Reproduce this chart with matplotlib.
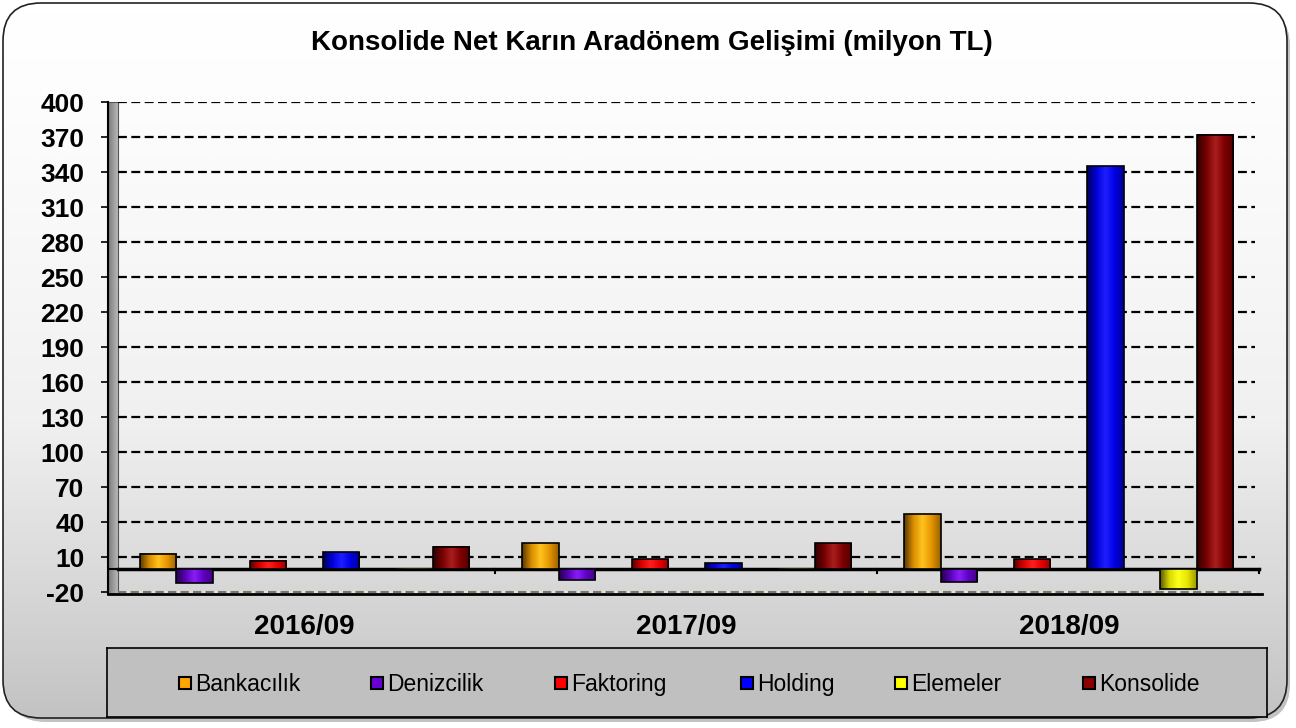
import matplotlib
matplotlib.use("Agg")
import matplotlib.pyplot as plt
import numpy as np
from matplotlib.patches import FancyBboxPatch, Rectangle
from matplotlib.colors import LinearSegmentedColormap, to_rgb

plt.rcParams['font.family'] = ['Liberation Sans', 'DejaVu Sans']

# data (milyon TL)
periods = ["2016/09", "2017/09", "2018/09"]
series = ["Bankacılık", "Denizcilik", "Faktoring", "Holding", "Elemeler", "Konsolide"]
bankacilik = [13, 22, 47]
denizcilik = [-12, -10, -11]
faktoring = [7, 8, 8]
holding = [14, 5, 345]
elemeler = [-1, -1, -17]
konsolide = [19, 22, 372]
values = [bankacilik, denizcilik, faktoring, holding, elemeler, konsolide]
colors = ["#FFA500", "#6A00D8", "#FF0000", "#0000FF", "#FFFF00", "#8B0000"]
yticks = [-20, 10, 40, 70, 100, 130, 160, 190, 220, 250, 280, 310, 340, 370, 400]

W, H = 1296, 728
fig = plt.figure(figsize=(W / 100, H / 100), dpi=100)


def fx(px):
    return px / W


def fy(py):
    return 1 - py / H


# background with rounded frame
bg = fig.add_axes([0, 0, 1, 1])
bg.set_xlim(0, W)
bg.set_ylim(H, 0)
bg.axis("off")
shadow = FancyBboxPatch((8, 8), W - 14, H - 14, boxstyle="round,pad=0,rounding_size=38",
                        fc="#9a9a9a", ec="none", alpha=0.6)
bg.add_patch(shadow)
frame = FancyBboxPatch((3, 3), W - 12, H - 13, boxstyle="round,pad=0,rounding_size=38",
                       fc="none", ec="#222222", lw=1.2, zorder=3)
bg.add_patch(frame)
grad = np.linspace(0, 1, 256) ** 1.3
grad = grad[:, None]
cmap_bg = LinearSegmentedColormap.from_list("bg", ["#FFFFFF", "#F0F0F0", "#C3C3C3"])
im = bg.imshow(grad, extent=(3, W - 9, H - 10, 3), cmap=cmap_bg, aspect="auto", zorder=1)
im.set_clip_path(frame)
bg.set_xlim(0, W)
bg.set_ylim(H, 0)

# main plot
left, right, top, bottom = 108, 1255, 102, 594
ax = fig.add_axes([fx(left), fy(bottom), fx(right - left), fy(top) - fy(bottom)])
ax.patch.set_alpha(0)
slot = 36.6
ax.set_xlim(0, (right - left) / slot)
ymin = -21.7
ax.set_ylim(ymin, 400)

x0 = 0.87
step = 10.44
offsets = [0, 1, 3, 5, 7, 8]

# left wall and floor
wall_w = 10 / slot
wall_cm = LinearSegmentedColormap.from_list("wall", ["#7a7a7a", "#b8b8b8"])
ax.imshow(np.linspace(0, 1, 32)[None, :], extent=(0, wall_w, ymin, 400), cmap=wall_cm,
          aspect="auto", zorder=2)
ax.add_patch(Rectangle((0, ymin), wall_w, 400 - ymin, fc="none", ec="#555555", lw=0.8, zorder=2))
ax.fill_between([wall_w, ax.get_xlim()[1]], ymin, -19.2, color="#E6E3CC", zorder=1)
ax.axhline(-20, xmin=wall_w / ax.get_xlim()[1], color="#777777", lw=1.5, ls=(0, (4, 2)), zorder=2)

# gridlines
for t in yticks[1:]:
    ax.plot([wall_w, ax.get_xlim()[1]], [t, t], color="black", lw=1.6, ls=(0, (4, 2)), zorder=2)

# bars with cylinder-like shading
for si, (vals, c) in enumerate(zip(values, colors)):
    base = np.array(to_rgb(c))
    cm = LinearSegmentedColormap.from_list(
        "b%d" % si, [base * 0.35, base * 0.85, np.minimum(base * 1.0 + 0.12, 1), base * 0.9, base * 0.6])
    g = np.linspace(0, 1, 64)[None, :]
    for gi, v in enumerate(vals):
        xl = x0 + gi * step + offsets[si]
        lo, hi = min(0, v), max(0, v)
        ax.imshow(g, extent=(xl, xl + 1, lo, hi), cmap=cm, aspect="auto", zorder=4,
                  interpolation="bicubic")
        ax.add_patch(Rectangle((xl, lo), 1, hi - lo, fc="none", ec="black", lw=1.2, zorder=5))

ax.set_xlim(0, (right - left) / slot)
ax.set_ylim(ymin, 400)

# zero line and category ticks
ax.plot([wall_w, x0 + 2 * step + 9.7], [0, 0], color="black", lw=2.5, zorder=3, clip_on=False)
ax.plot([0, wall_w], [0, 0], color="black", lw=1.5, zorder=3)
for gi in range(3):
    xb = x0 + gi * step + 9.7
    ax.plot([xb, xb], [0, -4], color="black", lw=1.5, zorder=3, clip_on=False)

ax.set_yticks(yticks)
ax.set_yticklabels([str(t) for t in yticks], fontsize=19, fontweight="bold")
ax.tick_params(axis="y", length=5, width=1.2, pad=12)
ax.set_xticks([])
for s in ["top", "right"]:
    ax.spines[s].set_visible(False)
ax.spines["left"].set_linewidth(1.5)
ax.spines["bottom"].set_linewidth(2)
ax.spines["bottom"].set_bounds(0, ax.get_xlim()[1] + 0.2)

for gi, p in enumerate(periods):
    ax.text(x0 + gi * step + 4.5, -50, p, ha="center", va="center",
            fontsize=20, fontweight="bold")

fig.text(fx(652), fy(43), "Konsolide Net Karın Aradönem Gelişimi (milyon TL)",
         ha="center", va="center", fontsize=20, fontweight="bold")

# legend box
lg = fig.add_axes([fx(107), fy(717), fx(1267 - 107), fy(648) - fy(717)])
lg.set_xlim(107, 1267)
lg.set_ylim(717, 648)
lg.set_facecolor("#C0C0C0")
for s in lg.spines.values():
    s.set_linewidth(1.2)
lg.set_xticks([])
lg.set_yticks([])
leg_x = [179, 371, 555, 741, 895, 1083]
for name, c, lx in zip(series, colors, leg_x):
    lg.add_patch(Rectangle((lx, 677), 12, 12, fc=c, ec="black", lw=1.5))
    lg.text(lx + 16, 691, name, ha="left", va="baseline", fontsize=16.5)

fig.savefig("out.png", dpi=100)
